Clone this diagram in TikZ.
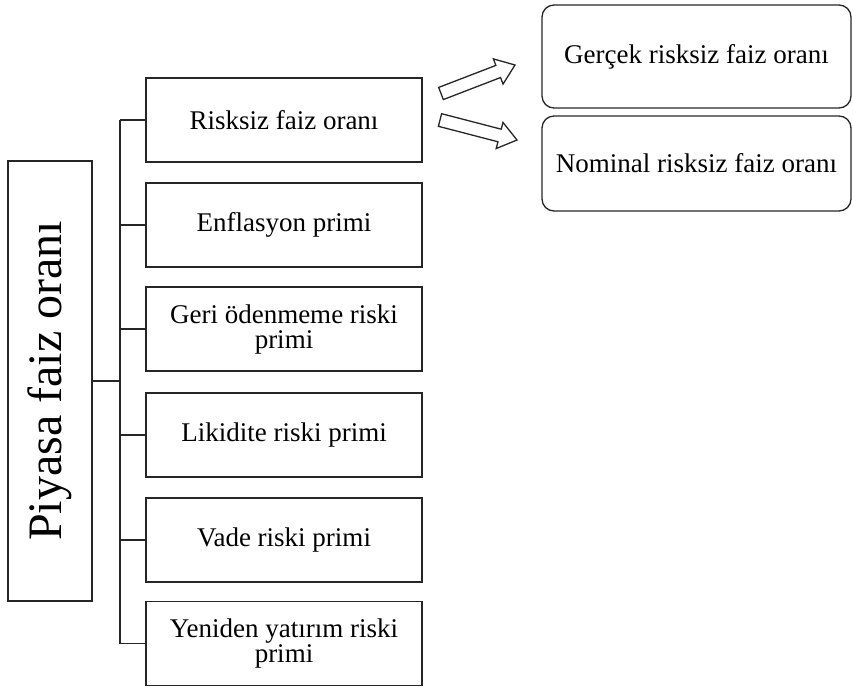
\documentclass[tikz,border=0pt]{standalone}
\usepackage{fontspec}
\setmainfont{Liberation Serif}
\usetikzlibrary{calc}

\tikzset{
  line/.style={draw=black!85, line width=1.3pt},
  itembox/.style={line, rectangle, minimum width=276pt, minimum height=84pt,
    inner sep=0pt, align=center, font=\fontsize{27}{25}\selectfont},
  rootbox/.style={line, rectangle, minimum width=84pt, minimum height=440pt,
    inner sep=0pt},
  typebox/.style={line, rectangle, rounded corners=12pt, minimum width=309pt,
    inner sep=0pt, align=center, font=\fontsize{27}{25}\selectfont},
  hollowarrow/.style={line, fill=white, line join=miter},
}

% outlined block arrow from #1 (tail) to #2 (tip)
\newcommand\hollowblockarrow[2]{%
  \coordinate (hb) at ($(#2)!18pt!(#1)$);
  \draw[hollowarrow]
    ($(#1)!6.5pt!90:(#2)$) -- ($(hb)!6.5pt!90:(#2)$) -- ($(hb)!13.5pt!90:(#2)$)
    -- (#2) -- ($(hb)!13.5pt!-90:(#2)$) -- ($(hb)!6.5pt!-90:(#2)$)
    -- ($(#1)!6.5pt!-90:(#2)$) -- cycle;}

\begin{document}
\begin{tikzpicture}[x=1pt, y=-1pt]
  \useasboundingbox (0,0) rectangle (853,686);

  % root
  \node[rootbox] (root) at (50,381) {};
  \node[rotate=90, font=\fontsize{48}{50}\selectfont] (rootlabel) at (root.center) {Piyasa faiz oranı};

  % components
  \node[itembox] (b1) at (284,120) {Risksiz faiz oranı};
  \node[itembox] (b2) at (284,225) {Enflasyon primi};
  \node[itembox] (b3) at (284,329) {Geri ödenmeme riski\\primi};
  \node[itembox] (b4) at (284,435) {Likidite riski primi};
  \node[itembox] (b5) at (284,540) {Vade riski primi};
  \node[itembox] (b6) at (284,643.5) {Yeniden yatırım riski\\primi};

  % tree connectors
  \coordinate (trunk) at (120,381);
  \draw[line] (root.east) -- (root.east -| trunk);
  \draw[line] (b1.west -| trunk) -- (b6.west -| trunk);
  \foreach \b in {b1,b2,b3,b4,b5,b6}
    \draw[line] (\b.west -| trunk) -- (\b.west);

  % kinds of risk-free rate
  \node[typebox, minimum height=103pt] (real) at (696.5,56.5) {Gerçek risksiz faiz oranı};
  \node[typebox, minimum height=95pt] (nominal) at (696.5,163.5) {Nominal risksiz faiz oranı};

  \coordinate (a1t) at (441,93.5);
  \coordinate (a1h) at (515,65);
  \coordinate (a2t) at (440,120);
  \coordinate (a2h) at (517,140);
  \hollowblockarrow{a1t}{a1h}
  \hollowblockarrow{a2t}{a2h}
\end{tikzpicture}
\end{document}
